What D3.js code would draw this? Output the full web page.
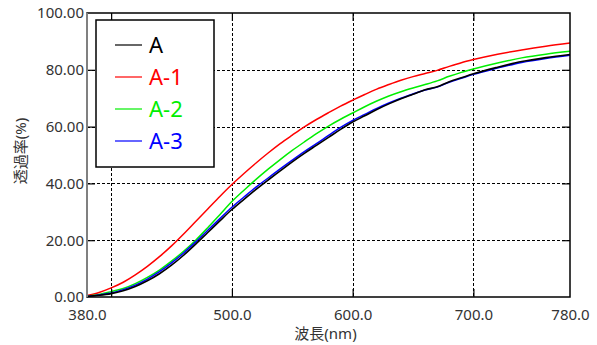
<!DOCTYPE html>
<html>
<head>
<meta charset="utf-8">
<script src="https://cdn.jsdelivr.net/npm/d3@7"></script>
<style>
  body { margin: 0; background: #fff; }
  svg { display: block; font-family: "Noto Sans", "Noto Sans CJK JP", sans-serif; }
</style>
</head>
<body>
<svg id="chart" width="597" height="345"></svg>
<script>
// wavelengths (nm)
const wavelengths = [380, 390, 400, 410, 420, 430, 440, 450, 460, 470, 480, 490, 500,
  510, 520, 530, 540, 550, 560, 570, 580, 590, 600, 610, 620, 630, 640, 650, 660,
  670, 680, 690, 700, 720, 740, 760, 780];

// transmittance (%)
const seriesA = [0.2, 0.6, 1.2, 2.2, 3.7, 5.7, 8.2, 11.2, 14.7, 18.6, 22.7, 26.8, 30.8,
  34.4, 37.9, 41.2, 44.4, 47.6, 50.6, 53.4, 56.2, 59.0, 61.6, 63.8, 66.0, 68.0, 69.8,
  71.4, 73.0, 74.0, 75.8, 77.2, 78.6, 80.9, 82.9, 84.3, 85.4];
const seriesA1 = [0.5, 1.6, 3.2, 5.2, 7.8, 10.8, 14.2, 18.0, 22.2, 26.6, 31.0, 35.4, 39.6,
  43.5, 47.2, 50.7, 54.0, 57.0, 59.9, 62.5, 64.9, 67.2, 69.3, 71.3, 73.2, 74.8, 76.3,
  77.6, 78.7, 79.8, 81.2, 82.5, 83.6, 85.5, 87.0, 88.3, 89.4];
const seriesA2 = [0.3, 0.9, 1.9, 3.0, 4.7, 6.9, 9.5, 12.6, 16.1, 20.0, 24.4, 29.0, 33.6,
  37.6, 41.4, 45.0, 48.4, 51.6, 54.6, 57.5, 60.2, 62.6, 64.8, 67.0, 69.0, 70.8, 72.3,
  73.6, 74.8, 76.1, 77.7, 79.1, 80.3, 82.4, 84.2, 85.5, 86.5];
const seriesA3 = [0.2, 0.7, 1.4, 2.6, 4.2, 6.3, 8.9, 12.0, 15.5, 19.4, 23.5, 27.6, 31.6,
  35.2, 38.7, 41.9, 45.1, 48.2, 51.2, 54.0, 56.9, 59.7, 62.2, 64.3, 66.4, 68.3, 70.0,
  71.5, 72.9, 73.9, 75.6, 77.0, 78.4, 80.6, 82.6, 84.0, 85.1];

const seriesNames = ["A", "A-1", "A-2", "A-3"];
const seriesColors = ["#000000", "#ff0000", "#00ee00", "#0000ff"];

const xTickLabels = [380, 500, 600, 700, 780];
const xGrid = [400, 500, 600, 700];
const yTicks = [0, 20, 40, 60, 80, 100];
const yGrid = [20, 40, 60, 80];

const svg = d3.select("#chart");
const margin = { top: 13, right: 27, bottom: 48, left: 87 };
const W = 597, H = 345;
const w = W - margin.left - margin.right;
const h = H - margin.top - margin.bottom;

const g = svg.append("g").attr("transform", `translate(${margin.left},${margin.top})`);

const x = d3.scaleLinear().domain([380, 780]).range([0, w]);
const y = d3.scaleLinear().domain([0, 100]).range([h, 0]);

// dotted grid
g.append("g")
  .selectAll("line")
  .data(xGrid)
  .join("line")
  .attr("x1", d => Math.round(x(d)) + 0.5).attr("x2", d => Math.round(x(d)) + 0.5)
  .attr("y1", 0).attr("y2", h)
  .attr("stroke", "#000").attr("stroke-width", 1)
  .attr("stroke-dasharray", "3,2");
g.append("g")
  .selectAll("line")
  .data(yGrid)
  .join("line")
  .attr("x1", 0).attr("x2", w)
  .attr("y1", d => Math.round(y(d)) + 0.5).attr("y2", d => Math.round(y(d)) + 0.5)
  .attr("stroke", "#000").attr("stroke-width", 1)
  .attr("stroke-dasharray", "3,2");

// lines
const line = d3.line()
  .x((d, i) => x(wavelengths[i]))
  .y(d => y(d))
  .curve(d3.curveMonotoneX);

const allSeries = [seriesA1, seriesA2, seriesA3, seriesA];
const allColors = [seriesColors[1], seriesColors[2], seriesColors[3], seriesColors[0]];
allSeries.forEach((s, k) => {
  g.append("path")
    .datum(s)
    .attr("fill", "none")
    .attr("stroke", allColors[k])
    .attr("stroke-width", k === 3 ? 1.6 : 1.5)
    .attr("d", line);
});

// inner ticks on all four sides
function styleAxis(sel) {
  sel.select(".domain").remove();
  sel.selectAll(".tick line").attr("stroke", "#000").attr("stroke-width", 1.2);
  sel.selectAll("text").remove();
}
g.append("g").attr("transform", `translate(0,${h})`)
  .call(d3.axisBottom(x).tickValues(xGrid).tickSize(-8)).call(styleAxis);
g.append("g")
  .call(d3.axisTop(x).tickValues(xGrid).tickSize(-8)).call(styleAxis);
g.append("g")
  .call(d3.axisLeft(y).tickValues(yGrid).tickSize(-8)).call(styleAxis);
g.append("g").attr("transform", `translate(${w},0)`)
  .call(d3.axisRight(y).tickValues(yGrid).tickSize(-8)).call(styleAxis);

// frame
g.append("rect")
  .attr("x", 0).attr("y", 0).attr("width", w).attr("height", h)
  .attr("fill", "none").attr("stroke", "#000").attr("stroke-width", 1.5);
g.append("line")
  .attr("x1", 0).attr("x2", 0).attr("y1", 0).attr("y2", h)
  .attr("stroke", "#808080").attr("stroke-width", 2);

// tick labels
const xLab = g.append("g").attr("transform", `translate(0,${h})`)
  .call(d3.axisBottom(x).tickValues(xTickLabels).tickSize(0).tickPadding(12)
    .tickFormat(d3.format(".1f")));
xLab.select(".domain").remove();
xLab.selectAll("text").attr("font-size", 15).attr("fill", "#333")
  .attr("font-family", "'Noto Sans', sans-serif");

const yLab = g.append("g")
  .call(d3.axisLeft(y).tickValues(yTicks).tickSize(0).tickPadding(3)
    .tickFormat(d3.format(".2f")));
yLab.select(".domain").remove();
yLab.selectAll("text").attr("font-size", 15).attr("fill", "#333")
  .attr("font-family", "'Noto Sans', sans-serif");

// axis titles
svg.append("text")
  .attr("x", margin.left + w / 2 - 3).attr("y", 339)
  .attr("text-anchor", "middle").attr("font-size", 15).attr("fill", "#333")
  .text("波長(nm)");
svg.append("text")
  .attr("transform", `translate(26,${margin.top + h / 2 - 4}) rotate(-90)`)
  .attr("text-anchor", "middle").attr("font-size", 15).attr("fill", "#333")
  .text("透過率(%)");

// legend
const lg = svg.append("g").attr("transform", "translate(96,20)");
lg.append("rect")
  .attr("width", 118).attr("height", 147)
  .attr("fill", "#fff").attr("stroke", "#000").attr("stroke-width", 1.5);
seriesNames.forEach((name, i) => {
  const cy = 25 + i * 32;
  lg.append("line")
    .attr("x1", 19).attr("x2", 46).attr("y1", cy).attr("y2", cy)
    .attr("stroke", seriesColors[i]).attr("stroke-width", 1.2);
  lg.append("text")
    .attr("x", 53).attr("y", cy + 8)
    .attr("font-size", 22).attr("fill", seriesColors[i])
    .text(name);
});
</script>
</body>
</html>
